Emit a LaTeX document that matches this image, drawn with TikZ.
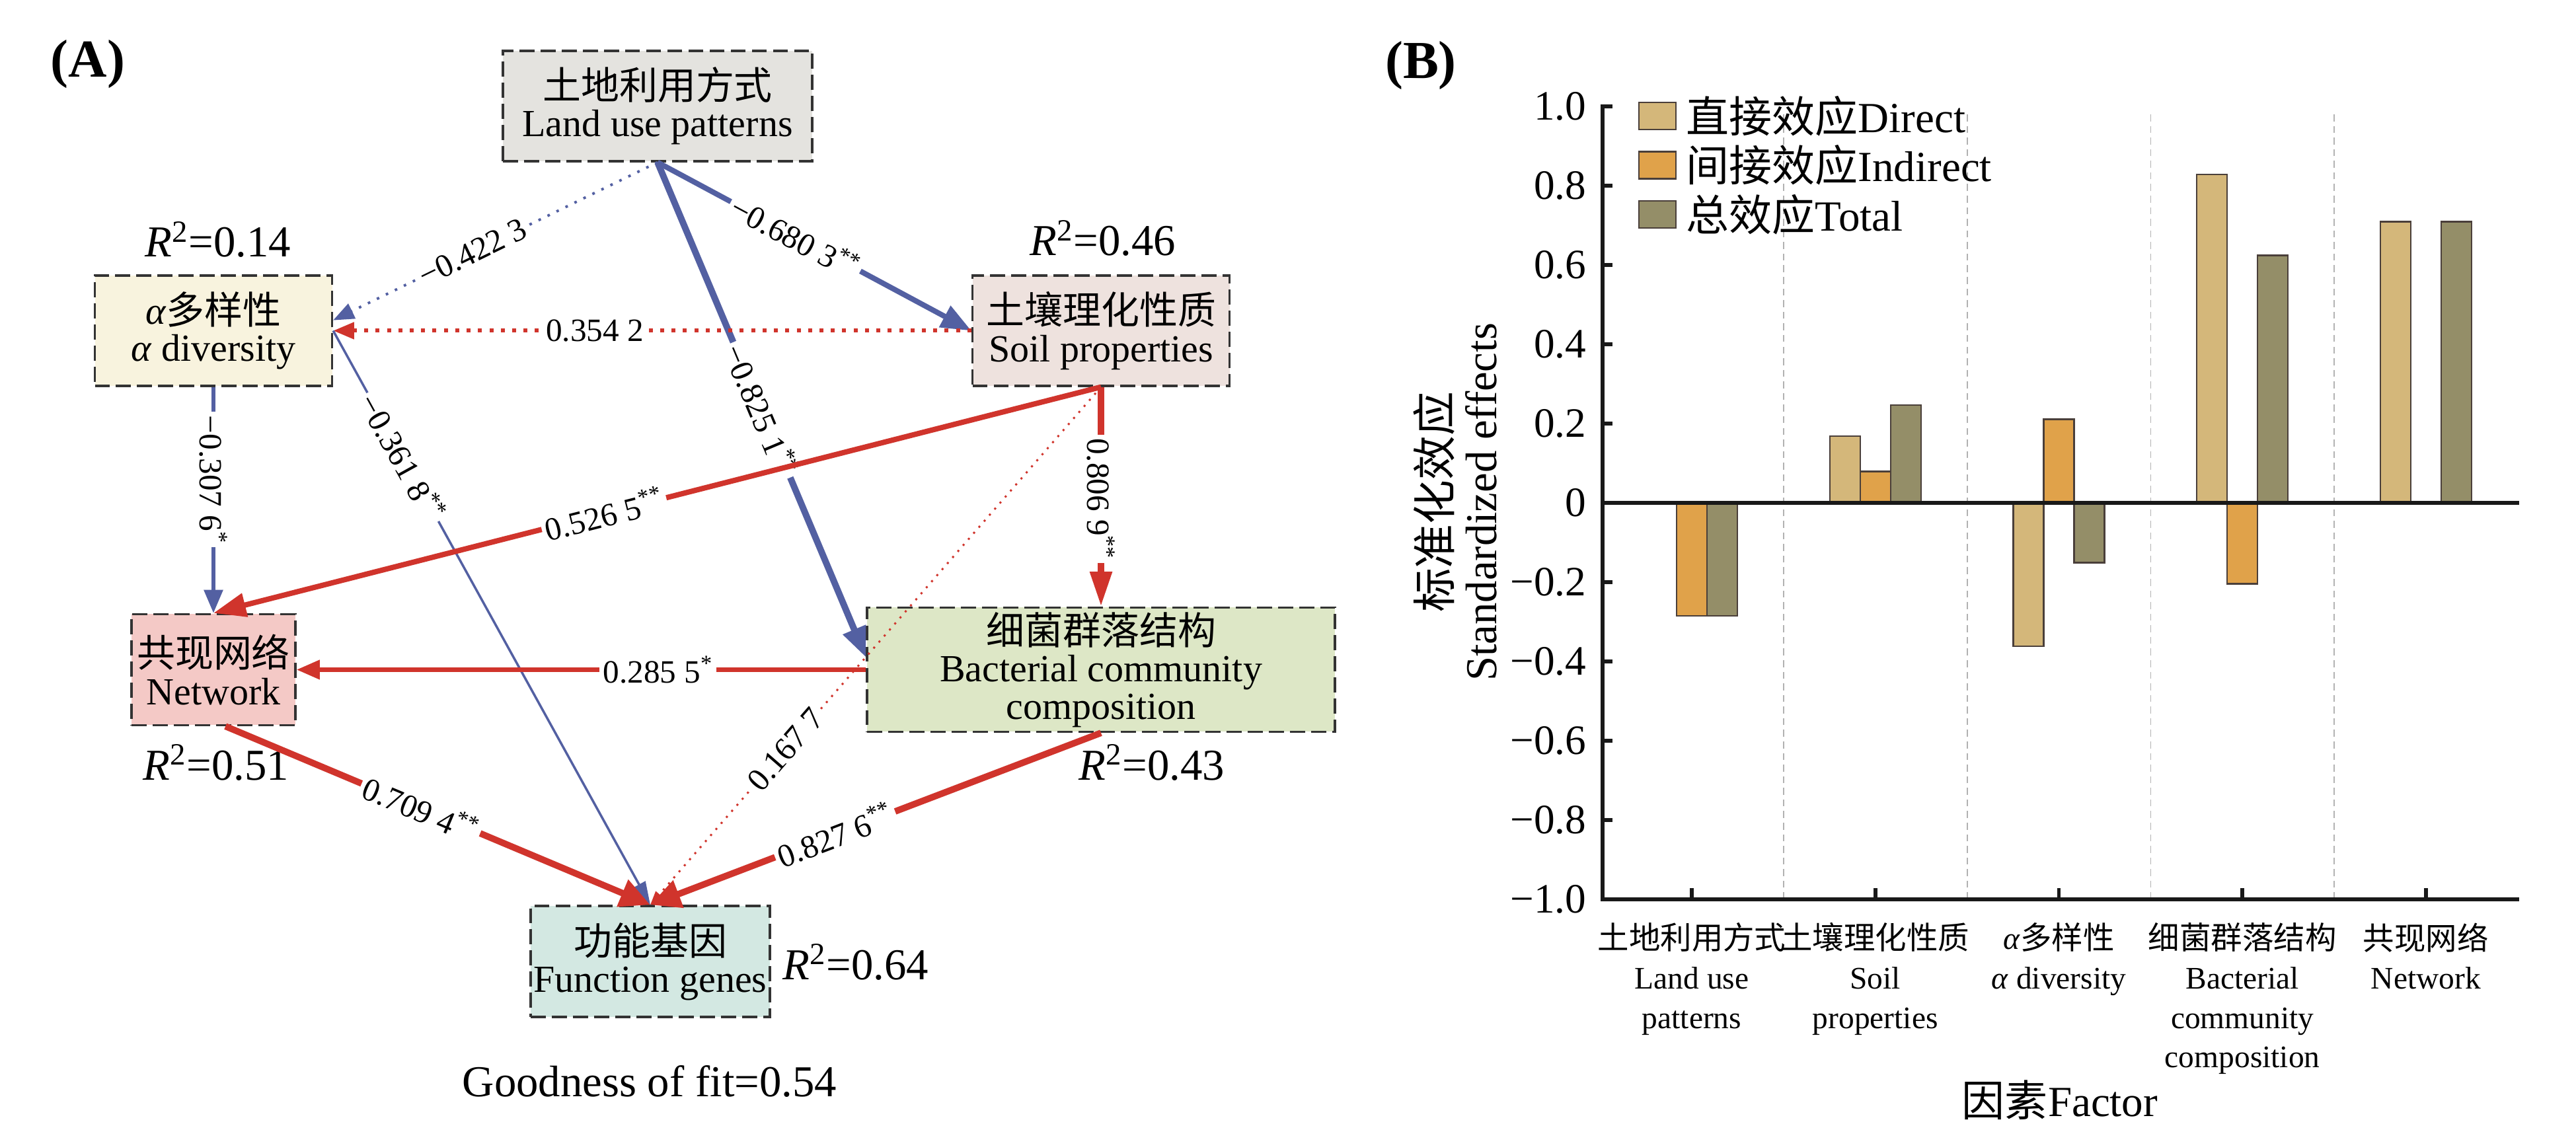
\documentclass[tikz,border=0pt]{standalone}
\usepackage{fontspec}
\setmainfont{Liberation Serif}
\newfontfamily\zhfont{Noto Sans CJK SC}
\newcommand{\zh}[1]{{\zhfont #1}}
\usetikzlibrary{arrows.meta}
\definecolor{pathblue}{RGB}{83,96,162}
\definecolor{pathred}{RGB}{208,52,44}
\definecolor{fillland}{RGB}{228,227,223}
\definecolor{fillalpha}{RGB}{248,243,222}
\definecolor{fillsoil}{RGB}{238,226,222}
\definecolor{fillnet}{RGB}{244,201,198}
\definecolor{fillbact}{RGB}{221,231,198}
\definecolor{fillfunc}{RGB}{211,232,226}
\definecolor{bardirect}{RGB}{212,183,122}
\definecolor{barindirect}{RGB}{224,162,74}
\definecolor{bartotal}{RGB}{148,142,104}
\definecolor{baredge}{RGB}{74,63,58}

\begin{document}
\begin{tikzpicture}[
	varbox/.style={draw=black!80, line width=0.95pt, dash pattern=on 6.5pt off 2.6pt, rectangle, align=center, inner sep=0pt, font=\fontsize{16.5}{16}\selectfont},
	coef/.style={fill=white, inner sep=1.5pt, sloped, font=\fontsize{14}{16}\selectfont},
	rsq/.style={font=\fontsize{19}{21}\selectfont},
	bluepath/.style={draw=pathblue},
	redpath/.style={draw=pathred},
	axisline/.style={line width=1.6pt, black!90},
	sepline/.style={draw=black!30, line width=0.5pt, dash pattern=on 3pt off 2pt},
	bar/.style={draw=baredge, line width=0.7pt},
	ticklab/.style={font=\fontsize{18}{20}\selectfont, inner sep=0pt},
	catlab/.style={font=\fontsize{13.5}{17}\selectfont, align=center, inner sep=0pt}
	]
				\fill[white] (0,0) rectangle (38.98,17.01);
				\useasboundingbox (0,0) rectangle (38.98,17.01);
				\node[font=\bfseries\fontsize{23}{25}\selectfont] (panelA)at(1.33, 16.035) {(A)};
				\node[font=\bfseries\fontsize{23}{25}\selectfont] (panelB)at(21.50, 16.02) {(B)};
				\node[varbox, fill=fillland, minimum width=4.68cm, minimum height=1.67cm] (land)at(9.95, 15.405) {\zh{土地利用方式}\\Land use patterns};
				\node[varbox, fill=fillalpha, minimum width=3.59cm, minimum height=1.67cm] (alpha)at(3.23, 12.005) {\textit{α}\zh{多样性}\\\textit{α} diversity};
				\node[varbox, fill=fillsoil, minimum width=3.89cm, minimum height=1.67cm] (soil)at(16.66, 12.005) {\zh{土壤理化性质}\\Soil properties};
				\node[varbox, fill=fillnet, minimum width=2.48cm, minimum height=1.68cm] (net)at(3.23, 6.875) {\zh{共现网络}\\Network};
				\node[varbox, fill=fillbact, minimum width=7.08cm, minimum height=1.88cm] (bact)at(16.66, 6.875) {\zh{细菌群落结构}\\Bacterial community\\composition};
				\node[varbox, fill=fillfunc, minimum width=3.62cm, minimum height=1.68cm] (func)at(9.84, 2.46) {\zh{功能基因}\\Function genes};
				\node[rsq] (r2alpha)at(3.30, 13.38) {\textit{R}\textsuperscript{2}=0.14};
				\node[rsq] (r2soil)at(16.69, 13.40) {\textit{R}\textsuperscript{2}=0.46};
				\node[rsq] (r2net)at(3.27, 5.47) {\textit{R}\textsuperscript{2}=0.51};
				\node[rsq] (r2bact)at(17.43, 5.47) {\textit{R}\textsuperscript{2}=0.43};
				\node[rsq] (r2func)at(12.95, 2.45) {\textit{R}\textsuperscript{2}=0.64};
				\node[rsq] (gof)at(9.83, 0.65) {Goodness of fit=0.54};
				\draw[bluepath, line width=1.1pt, dash pattern=on 1.1pt off 3.2pt, -{Triangle[length=9pt, width=7pt]}] (land.south) -- node[coef, pos=0.57] (c1) {−0.422 3} (alpha.5);
				\draw[bluepath, line width=2.3pt, -{Triangle[length=13pt, width=10pt]}] (land.south) -- node[coef, pos=0.44] (c2) {−0.680 3\textsuperscript{**}} (soil.west);
				\draw[bluepath, line width=2.8pt, -{Triangle[length=13pt, width=10pt]}] (land.south) -- node[coef, pos=0.5] (c3) {−0.825 1\textsuperscript{**}} (bact.177);
				\draw[redpath, line width=1.7pt, dash pattern=on 1.7pt off 3.2pt, -{Triangle[length=9pt, width=7pt]}] (soil.west) -- node[coef, pos=0.59] (c4) {0.354 2} (alpha.east);
				\draw[bluepath, line width=1.6pt, -{Triangle[length=10pt, width=8pt]}] (alpha.south) -- node[coef, pos=0.41] (c5) {−0.307 6\textsuperscript{*}} (net.north);
				\draw[bluepath, line width=1pt, -{Triangle[length=10pt, width=6pt]}] (alpha.east) -- node[coef, pos=0.22] (c6) {−0.361 8\textsuperscript{**}} (func.north);
				\draw[redpath, line width=2.3pt, -{Triangle[length=14pt, width=10pt]}] (soil.south) -- node[coef, pos=0.56] (c7) {0.526 5\textsuperscript{**}} (net.north);
				\draw[redpath, line width=2.8pt, -{Triangle[length=15pt, width=9pt]}] (soil.south) -- node[coef, pos=0.51] (c8) {0.806 9\textsuperscript{**}} (bact.north);
				\draw[redpath, line width=0.85pt, dash pattern=on 0.85pt off 2.6pt, -{Triangle[length=6pt, width=4pt]}] (soil.south) -- node[coef, pos=0.70] (c9) {0.167 7} (func.north);
				\draw[redpath, line width=2pt, -{Triangle[length=10pt, width=8pt]}] (bact.west) -- node[coef, pos=0.365] (c10) {0.285 5\textsuperscript{*}} (net.east);
				\draw[redpath, line width=2.8pt, -{Triangle[length=13pt, width=12pt]}] (net.-78) -- node[coef, pos=0.46] (c11) {0.709 4\textsuperscript{**}} (func.north);
				\draw[redpath, line width=2.8pt, -{Triangle[length=13pt, width=12pt]}] (bact.south) -- node[coef, pos=0.59] (c12) {0.827 6\textsuperscript{**}} (func.north);
				\foreach \k in {0,...,3}
					\draw[sepline] ({26.99+2.777*\k},3.40) -- ++(0,11.89);
				\foreach \d/\i/\t [count=\k from 0] in {0/-0.285/-0.285, 0.168/0.079/0.247, -0.362/0.211/-0.151, 0.828/-0.204/0.624, 0.709/0/0.709}{
					\pgfmathsetmacro\cx{25.60+2.777*\k}
					\filldraw[bar, fill=bardirect] (\cx-0.69,9.40) rectangle (\cx-0.23,{9.40+6*\d});
					\filldraw[bar, fill=barindirect] (\cx-0.23,9.40) rectangle (\cx+0.23,{9.40+6*\i});
					\filldraw[bar, fill=bartotal] (\cx+0.23,9.40) rectangle (\cx+0.69,{9.40+6*\t});
					\draw[axisline] (\cx,3.40) -- ++(0,0.17);
				}
				\draw[axisline] (24.25,15.43) -- (24.25,3.40) -- (38.12,3.40);
				\draw[axisline] (24.25,9.40) -- (38.12,9.40);
				\foreach \v/\lab in {1.0/1.0, 0.8/0.8, 0.6/0.6, 0.4/0.4, 0.2/0.2, 0/0, -0.2/−0.2, -0.4/−0.4, -0.6/−0.6, -0.8/−0.8, -1.0/−1.0}{
					\draw[axisline] (24.25,{9.40+6*\v}) -- ++(0.15,0);
					\node[ticklab, anchor=east] at (24.01,{9.40+6*\v}) {\lab};
				}
				\foreach \c/\lab [count=\r from 0] in {bardirect/\zh{直接效应}Direct, barindirect/\zh{间接效应}Indirect, bartotal/\zh{总效应}Total}{
					\filldraw[bar, fill=\c] (24.80,{15.255-0.745*\r-0.205}) rectangle (25.36,{15.255-0.745*\r+0.205});
					\node[anchor=west, inner sep=0pt, font=\fontsize{18.5}{20}\selectfont] (leg\r)at(25.51, {15.255-0.745*\r}) {\lab};
				}
				\node[catlab, anchor=north] (cat1)at(25.60, 3.05) {\zh{土地利用方式}\\Land use\\patterns};
				\node[catlab, anchor=north] (cat2)at(28.377, 3.05) {\zh{土壤理化性质}\\Soil\\properties};
				\node[catlab, anchor=north] (cat3)at(31.154, 3.05) {\textit{α}\zh{多样性}\\\textit{α} diversity};
				\node[catlab, anchor=north] (cat4)at(33.931, 3.05) {\zh{细菌群落结构}\\Bacterial\\community\\composition};
				\node[catlab, anchor=north] (cat5)at(36.708, 3.05) {\zh{共现网络}\\Network};
				\node[rotate=90, align=center, inner sep=0pt, font=\fontsize{19}{19.5}\selectfont] (ylab)at(22.02, 9.41) {\zh{标准化效应}\\Standardized effects};
				\node[font=\fontsize{18.5}{20}\selectfont] (xlab)at(31.17, 0.36) {\zh{因素}Factor};
			\end{tikzpicture}
\end{document}
